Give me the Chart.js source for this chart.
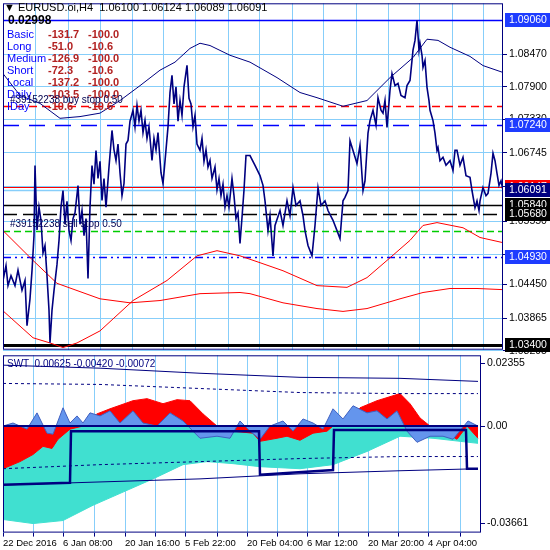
<!DOCTYPE html>
<html><head><meta charset="utf-8">
<script src="https://cdn.jsdelivr.net/npm/chart.js@4/dist/chart.umd.min.js"></script>
<style>
body{margin:0;background:#fff;width:550px;height:550px;position:relative;overflow:hidden;font-family:"Liberation Sans",Arial,sans-serif}
canvas{position:absolute;left:0}
.t{position:absolute;white-space:pre;font-size:11px;line-height:12px}
.lb{color:#0000ff}.v{color:#b22222;font-weight:bold}
</style></head><body>
<canvas id="c1" width="550" height="363" style="top:-5px"></canvas>
<canvas id="c2" width="550" height="203" style="top:347px"></canvas>
<div class="t" style="left:4px;top:1px;color:#000">▼ EURUSD.oi,H4  1.06100 1.06124 1.06089 1.06091</div>
<div class="t" style="left:8px;top:14px;color:#000;font-weight:bold;font-size:12px">0.02998</div>
<div id="legend"></div>
<div class="t" style="left:10px;top:94px;color:#000050;font-size:10px">#39152238 buy stop 0.50</div>
<div class="t" style="left:10px;top:218px;color:#000050;font-size:10px">#39152238 sell stop 0.50</div>
<div class="t" style="left:7px;top:358px;color:#000080;font-size:10px">SWT  0.00625 -0.00420 -0.00072</div>
<script>
const legendNames=["Basic","Long","Medium","Short","Local","Daily","IDay"];
const legendA=["-131.7","-51.0","-126.9","-72.3","-137.2","-103.5","-10.6"];
const legendB=["-100.0","-10.6","-100.0","-10.6","-100.0","-100.0","-10.6"];

const priceSeries=[[0,1.04518],[3,1.04780],[5,1.04430],[8,1.04605],[12,1.04430],[15,1.04700],[19,1.04350],[22,1.04520],[24,1.03732],[27,1.04200],[29,1.04692],[31,1.05300],[32,1.06527],[34,1.05400],[36,1.05800],[38,1.05566],[40,1.05000],[42,1.05129],[44,1.04600],[46,1.04000],[47,1.03435],[49,1.04000],[51,1.04343],[54,1.04800],[56,1.05217],[58,1.05800],[60,1.06090],[62,1.05500],[64,1.05900],[66,1.05391],[68,1.05217],[70,1.05600],[72,1.05700],[75,1.06177],[77,1.05500],[79,1.05741],[81,1.05300],[83,1.05600],[85,1.04553],[87,1.05800],[89,1.06527],[91,1.06200],[93,1.06789],[95,1.06300],[97,1.06600],[99,1.05915],[101,1.06300],[103,1.05800],[106,1.06500],[109,1.07138],[111,1.06800],[113,1.06614],[115,1.06900],[117,1.06400],[119,1.06000],[121,1.06212],[123,1.06900],[125,1.06964],[127,1.07300],[130,1.07488],[132,1.07200],[134,1.07575],[136,1.07300],[138,1.07488],[140,1.07100],[142,1.07313],[144,1.07000],[146,1.07200],[149,1.06614],[151,1.07000],[153,1.06800],[155,1.07100],[158,1.06400],[160,1.06212],[163,1.06800],[165,1.07200],[167,1.07800],[169,1.08099],[171,1.07600],[173,1.07900],[175,1.07300],[177,1.07662],[179,1.07400],[181,1.07900],[184,1.08274],[186,1.07700],[188,1.07600],[190,1.07200],[192,1.07400],[194,1.06900],[197,1.06789],[199,1.07000],[201,1.06600],[203,1.06800],[205,1.06500],[207,1.06614],[209,1.06300],[212,1.06500],[214,1.06100],[216,1.06300],[218,1.06000],[220,1.06200],[222,1.05800],[224,1.06000],[226,1.05800],[229,1.06300],[231,1.06000],[233,1.05600],[235,1.05700],[237,1.05166],[239,1.05618],[241,1.06100],[243,1.06700],[245,1.06700],[247,1.0670],[252,1.0653],[257,1.0635],[260,1.0618],[262,1.0591],[265,1.0539],[267,1.0565],[270,1.0495],[272,1.0548],[277,1.0574],[280,1.0548],[284,1.0591],[287,1.0565],[290,1.0614],[293,1.0583],[297,1.0591],[300,1.0565],[302,1.0539],[305,1.0513],[309,1.0495],[312,1.0548],[315,1.0614],[318,1.0583],[322,1.0591],[325,1.0574],[330,1.0557],[334,1.0539],[337,1.0525],[340,1.0591],[342,1.0597],[345,1.0609],[347,1.0696],[350,1.0679],[354,1.0656],[357,1.0688],[360,1.0609],[362,1.0626],[365,1.0709],[367,1.0731],[370,1.0749],[373,1.0723],[375,1.0771],[378,1.0749],[380,1.0744],[382,1.0766],[384,1.0719],[387,1.0784],[389,1.0813],[392,1.0792],[395,1.0796],[398,1.0775],[402,1.0771],[404,1.0792],[407,1.0801],[409,1.0836],[410,1.0854],[412,1.0871],[414,1.0906],[416,1.0854],[417,1.0866],[419,1.0845],[420,1.0824],[422,1.0836],[424,1.0789],[426,1.0766],[427,1.0749],[430,1.0731],[432,1.0709],[434,1.0679],[435,1.0684],[437,1.0661],[440,1.0667],[443,1.0653],[447,1.0661],[450,1.0644],[452,1.0679],[454,1.0679],[457,1.0653],[460,1.0667],[463,1.0635],[467,1.0632],[469,1.0609],[472,1.0579],[474,1.0591],[476,1.0574],[477,1.0591],[480,1.0614],[483,1.0600],[485,1.0604],[488,1.0639],[490,1.0674],[492,1.0661],[494,1.0639],[496,1.0618],[498,1.0626],[500,1.06091]];
const maBlue=[[0,1.0813],[17,1.0775],[37,1.0761],[57,1.0735],[77,1.0738],[97,1.0744],[117,1.0766],[137,1.0792],[157,1.0819],[172,1.0833],[187,1.0857],[197,1.0866],[207,1.0862],[227,1.0845],[247,1.0833],[274,1.0806],[297,1.0780],[314,1.0771],[340,1.0756],[364,1.0766],[387,1.0806],[410,1.0841],[424,1.0873],[435,1.0871],[447,1.0859],[467,1.0843],[480,1.0827],[500,1.0815]];
const redA=[[0,1.0539],[30,1.0487],[54,1.0447],[97,1.0420],[127,1.0413],[157,1.0417],[197,1.0429],[237,1.0431],[247,1.0429],[280,1.0413],[314,1.0403],[340,1.0398],[364,1.0403],[397,1.0420],[420,1.0431],[447,1.0438],[474,1.0438],[500,1.0436]];
const redB=[[0,1.0399],[30,1.0352],[47,1.0343],[60,1.0335],[74,1.0343],[97,1.0364],[130,1.0417],[164,1.0452],[194,1.0495],[214,1.0504],[237,1.0495],[257,1.0483],[280,1.0469],[314,1.0443],[344,1.0440],[364,1.0457],[384,1.0487],[407,1.0522],[420,1.0548],[434,1.0553],[460,1.0544],[477,1.0527],[500,1.0518]];
const levelVals=[1.09060,1.07557,1.07240,1.06147,1.06091,1.05840,1.05680,1.05391,1.04930,1.03400];
const levelColors=["#0000ff","#ff0000","#0000ff","#ff0000","#87cefa","#000000","#000000","#00cc00","#0000ff","#000000"];
const levelDash=[[],[8,5],[16,10],[],[],[],[14,6],[7,4],[8,4,2,4,2,4],[]];
const levelWidth=[1.3,1.3,1.5,1.2,1.5,1.3,1.3,1.3,1.3,3];
const boxVals=[1.09060,1.07240,1.06147,1.06091,1.05840,1.05680,1.04930,1.03400];
const boxColors=["#1e3cff","#1e3cff","#ff0000","#000080","#000000","#000000","#1e3cff","#000000"];
const priceTicks=[1.08470,1.07900,1.07330,1.06745,1.06160,1.05550,1.04965,1.04450,1.03865,1.03295];
const priceGridBars=[32,65,97,129,160,192,225,256,289,320,353,385,416,449,480];
const swtGridBars=[30,60,91,122,152,182,214,244,274,304,335,365,395,425,457];
const timeLabelBars=[0,60,122,182,244,304,365,425];
const timeLabels=["22 Dec 2016","6 Jan 08:00","20 Jan 16:00","5 Feb 22:00","20 Feb 04:00","6 Mar 12:00","20 Mar 20:00","4 Apr 04:00"];

const swtTurq=[[0,-0.03511],[30,-0.03664],[60,-0.0355],[90,-0.02977],[120,-0.02481],[150,-0.01985],[180,-0.0145],[204,-0.01336],[230,-0.01412],[257,-0.01527],[297,-0.01603],[330,-0.0145],[364,-0.00954],[397,-0.00382],[430,-0.00458],[457,-0.00573],[475,-0.00649]];
const swtRed=[[0,-0.01603],[17,-0.01336],[30,-0.01069],[40,-0.00763],[49,-0.0084],[55,-0.00496],[67,-0.00115],[80,0],[94,0.00458],[107,0.00649],[130,0.00954],[144,0.0103],[160,0.0084],[174,0.00992],[187,0.00954],[200,0.00458],[214,0],[230,-0.00191],[250,-0.00267],[257,-0.00573],[274,-0.00458],[284,-0.00382],[297,-0.00534],[310,-0.00267],[324,-0.00191],[330,0],[344,0.00115],[357,0.00687],[374,0.00954],[397,0.01221],[407,0.0084],[417,0.00305],[427,0],[440,-0.00191],[454,-0.00496],[464,0],[475,-0.00458]];
const swtBlue=[[0,0],[10,0.00115],[24,-0.00115],[34,0.00496],[44,-0.00267],[50,-0.00305],[60,0.00687],[67,0.00115],[74,0.00382],[80,0.00115],[87,0.00496],[97,0.00382],[107,0.00573],[117,0.00115],[130,0.00573],[140,0.00115],[154,0],[167,0.00496],[180,0.00191],[190,-0.00191],[197,-0.00458],[214,-0.00382],[227,-0.00458],[237,0.00191],[247,-0.00191],[257,-0.00496],[267,0],[280,0.00191],[290,-0.00191],[300,0.00267],[310,0.00115],[320,-0.00115],[330,0.00649],[340,0.00267],[350,0.00763],[364,0.00496],[374,0.00573],[384,0.00267],[394,0.00573],[404,-0.00191],[414,-0.00611],[427,-0.00382],[440,-0.00382],[450,-0.00496],[465,0.00191],[475,0]];
const swtStep=[[0,-0.0221],[67,-0.0213],[68,-0.0019],[256,-0.0019],[257,-0.0183],[330,-0.0165],[331,-0.0015],[463,-0.0015],[464,-0.0160],[475,-0.0160]];
const swtUpper=[[0,0.0229],[97,0.02176],[197,0.01985],[297,0.01832],[397,0.01794],[475,0.01679]];
const swtUpperDash=[[0,0.01603],[97,0.01565],[197,0.01412],[297,0.0126],[397,0.01221],[475,0.01221]];
const swtLowerDash=[[0,-0.01603],[97,-0.0145],[197,-0.01336],[297,-0.01221],[397,-0.01145],[475,-0.01145]];
const swtLower=[[0,-0.02214],[97,-0.021],[197,-0.01985],[297,-0.01794],[397,-0.01679],[475,-0.01603]];
const swtTicks=[0.02355,0,-0.03661];
const swtTickLabels=["0.02355","0.00","-0.03661"];

let lg='';
legendNames.forEach((n,i)=>{const y=28+i*12;
 lg+=`<div class="t lb" style="left:7px;top:${y}px">${n}</div><div class="t v" style="left:48px;top:${y}px">${legendA[i]}</div><div class="t v" style="left:88px;top:${y}px">${legendB[i]}</div>`;});
document.getElementById('legend').innerHTML=lg;

const FONT={family:"Liberation Sans",size:10.5};
const XFONT={family:"Liberation Sans",size:9.5};
const xy=a=>a.map(p=>({x:p[0],y:p[1]}));
const gridDash={color:"#87cefa",borderDash:[3,3],lineWidth:1};
function xScale(showLabels,max,grid){
 return {type:'linear',min:0,max,
  afterBuildTicks:s=>{s.ticks=(showLabels?[0].concat(grid):grid).map(v=>({value:v}));},
  afterFit:s=>{if(!showLabels)s.height=0;},
  grid:{...gridDash,drawTicks:showLabels,tickLength:4,tickColor:"#000080",tickBorderDash:[]},
  border:{display:false},
  ticks:{display:showLabels,align:'start',maxRotation:0,autoSkip:false,padding:1,color:"#000",font:XFONT,
   callback:v=>{const i=timeLabelBars.indexOf(v);return i>=0?timeLabels[i]:'';}}};
}
const frame={id:'frame',afterDraw(c){const a=c.chartArea,x=c.ctx;x.save();x.strokeStyle="#000080";x.lineWidth=1;x.strokeRect(a.left+0.5,a.top+0.5,a.width-1,a.height-1);x.restore();}};

const levels={id:'levels',beforeDatasetsDraw(c){const s=c.scales.y,a=c.chartArea,x=c.ctx;x.save();
 levelVals.forEach((v,i)=>{const y=Math.round(s.getPixelForValue(v))+0.5;x.beginPath();x.setLineDash(levelDash[i]);x.strokeStyle=levelColors[i];x.lineWidth=levelWidth[i];x.moveTo(a.left,y);x.lineTo(a.right,y);x.stroke();});
 x.restore();},
 afterDraw(c){const s=c.scales.y,a=c.chartArea,x=c.ctx;x.save();x.font="10.5px 'Liberation Sans'";x.textBaseline='middle';
 boxVals.forEach((v,i)=>{const y=Math.round(s.getPixelForValue(v));x.fillStyle=boxColors[i];x.fillRect(a.right+2,y-7,46,14);x.fillStyle="#fff";x.fillText(v.toFixed(5),a.right+6,y+0.5);});
 x.restore();}};

const common={responsive:false,animation:false,events:[],plugins:{legend:{display:false},tooltip:{enabled:false}},
 elements:{point:{radius:0},line:{tension:0}}};
function yAxis(min,max,ticks,labels,w){return {type:'linear',position:'right',min,max,
 afterBuildTicks:s=>{s.ticks=ticks.map(v=>({value:v}));},
 afterFit:s=>{s.width=w;},
 grid:{...gridDash,drawTicks:true,tickLength:4,tickColor:"#000080",tickBorderDash:[]},
 border:{display:false},
 ticks:{color:"#000",font:FONT,padding:2,callback:(v)=>{const i=ticks.indexOf(v);return labels[i];}}};}

new Chart(document.getElementById('c1'),{type:'line',
 data:{datasets:[
  {data:xy(priceSeries),borderColor:"#000080",borderWidth:1.6},
  {data:xy(maBlue),borderColor:"#000080",borderWidth:1},
  {data:xy(redA),borderColor:"#ff0000",borderWidth:1},
  {data:xy(redB),borderColor:"#ff0000",borderWidth:1}]},
 options:{...common,layout:{padding:{left:3,top:3,bottom:3,right:0}},
  scales:{x:xScale(false,500,priceGridBars),y:yAxis(1.03312,1.09357,priceTicks,priceTicks.map(v=>v.toFixed(5)),47)}},
 plugins:[levels,frame]});

new Chart(document.getElementById('c2'),{type:'line',
 data:{datasets:[
  {data:xy(swtTurq),borderColor:"#40e0d0",borderWidth:1,backgroundColor:"#40e0d0",fill:'origin',order:6},
  {data:xy(swtRed),borderColor:"#ff0000",borderWidth:1,backgroundColor:"#ff0000",fill:'origin',order:5},
  {data:xy(swtBlue),borderColor:"#4060c0",borderWidth:1,backgroundColor:"#6495ed",fill:'origin',order:4},
  {data:xy(swtUpper),borderColor:"#000080",borderWidth:1,order:2},
  {data:xy(swtUpperDash),borderColor:"#000080",borderWidth:1,borderDash:[3,3],order:2},
  {data:xy(swtLowerDash),borderColor:"#000080",borderWidth:1,borderDash:[3,3],order:2},
  {data:xy(swtLower),borderColor:"#000080",borderWidth:1,order:2},
  {data:[{x:0,y:0},{x:475,y:0}],borderColor:"#000080",borderWidth:2,order:1},
  {data:xy(swtStep),borderColor:"#000080",borderWidth:2.5,order:0}]},
 options:{...common,layout:{padding:{left:3,top:3,bottom:0,right:0}},
  scales:{x:xScale(true,478,swtGridBars),y:{...yAxis(-0.04004,0.0266,swtTicks,swtTickLabels,69),grid:{display:true,drawOnChartArea:false,drawTicks:true,tickLength:4,tickColor:"#000080"}}}},
 plugins:[frame]});
</script></body></html>
